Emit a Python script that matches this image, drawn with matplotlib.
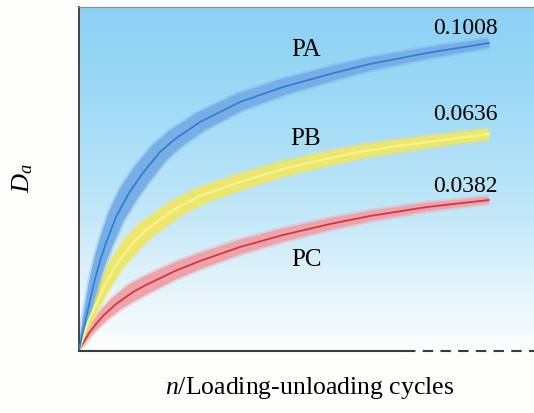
import numpy as np
import matplotlib
matplotlib.use('Agg')
import matplotlib.pyplot as plt
from matplotlib.colors import LinearSegmentedColormap
from matplotlib.patches import Polygon

plt.rcParams['font.family'] = ['Liberation Serif', 'DejaVu Serif']
plt.rcParams['mathtext.fontset'] = 'custom'
plt.rcParams['mathtext.rm'] = 'Liberation Serif'
plt.rcParams['mathtext.it'] = 'Liberation Serif:italic'

# schematic curves, values (arbitrary units)
n_pa = [0, 3, 7, 12, 17, 22, 27, 37, 50, 63, 81, 96, 121, 161, 204, 251, 291, 348, 410]
d_pa = [0, 15, 33, 55, 76, 93, 108, 134, 158, 177, 199, 212, 229, 249, 264, 277, 287, 298, 308]

n_pb = [0, 4, 10, 17, 24, 37, 54, 67, 96, 121, 161, 204, 251, 291, 348, 410]
d_pb = [0, 13, 31, 47, 62, 86, 108, 121, 142, 155, 169, 182, 193, 201, 209, 217]

n_pc = [0, 4, 10, 17, 24, 37, 54, 67, 96, 121, 161, 204, 251, 291, 348, 410]
d_pc = [0, 8, 18, 27, 35, 47, 59, 66, 80, 90, 104, 116, 127, 135, 144, 151]

labels = ['PA', 'PB', 'PC']
end_values = ['0.1008', '0.0636', '0.0382']

W, H = 534, 413
fig = plt.figure(figsize=(W / 100, H / 100), dpi=100)
fig.patch.set_facecolor('#fdfdf9')
ax = fig.add_axes([79 / W, 62 / H, (W - 79) / W, 344 / H])
ax.set_xlim(0, 455)
ax.set_ylim(0, 344)

# sky-like gradient background
grad = LinearSegmentedColormap.from_list(
    'bg', [(0, '#fbfdfe'), (0.12, '#eef8fc'), (0.4, '#c2e7f8'), (0.75, '#9cd9f6'), (1, '#8cd1f4')])
g = np.linspace(0, 1, 256).reshape(-1, 1)
ax.imshow(g, cmap=grad, origin='lower', extent=[0, 455, 0, 344], aspect='auto', zorder=0)


def band(x, y, wmax, shrink, fill, line, lw):
    x = np.asarray(x, float)
    y = np.asarray(y, float)
    p = ax.transData.transform(np.column_stack([x, y]))
    t = np.gradient(p, axis=0)
    t /= np.linalg.norm(t, axis=1)[:, None]
    nrm = np.column_stack([-t[:, 1], t[:, 0]])
    w = wmax * np.clip(x / 55, 0, 1) ** 0.6 * (1 - shrink * x / 410)
    inv = ax.transData.inverted()
    for extra, alpha in [(4, 0.35), (0, 1.0)]:
        half = (w + extra * (w > 0)) / 2
        up = inv.transform(p + nrm * half[:, None])
        dn = inv.transform(p - nrm * half[:, None])
        ax.add_patch(Polygon(np.vstack([up, dn[::-1]]), closed=True, fc=fill,
                             ec='none', alpha=alpha, zorder=2))
    ax.plot(x, y, color=line, lw=lw, solid_capstyle='round', zorder=3)


band(n_pc, d_pc, 19, 0.65, '#eca3aa', '#d8343f', 1.3)
band(n_pb, d_pb, 19, 0.45, '#ede66c', '#f7f38c', 1.8)
band(n_pa, d_pa, 23, 0.6, '#78aee6', '#2f80d3', 1.3)

# curve labels and end values
ax.text(227, 301, labels[0], fontsize=18, ha='center', va='center', zorder=4)
ax.text(227, 212, labels[1], fontsize=18, ha='center', va='center', zorder=4)
ax.text(227, 91, labels[2], fontsize=18, ha='center', va='center', zorder=4)
for v, yy in zip(end_values, [322, 236, 164]):
    ax.text(419, yy, v, fontsize=17, ha='right', va='center', zorder=4)

# spines
for s in ['right', 'bottom']:
    ax.spines[s].set_visible(False)
ax.spines['left'].set_color('#3a3a3a')
ax.spines['left'].set_linewidth(1.3)
ax.spines['top'].set_color('#8a8f94')
ax.spines['top'].set_linewidth(0.9)
ax.plot([0, 326], [0, 0], color='#3a3a3a', lw=1.5, clip_on=False, zorder=5)
ax.plot([326, 455], [0, 0], color='#3a3a3a', lw=1.5, ls=(0, (5, 3.5)), clip_on=False, zorder=5)
ax.set_xticks([])
ax.set_yticks([])

fig.text(310 / W, 1 - 388 / H, r'$n$/Loading-unloading cycles', fontsize=18.5, ha='center', va='center')
fig.text(23 / W, 1 - 178 / H, r'$D_a$', fontsize=19, ha='center', va='center', rotation=90)

fig.savefig('out.png', dpi=100, facecolor=fig.get_facecolor())
